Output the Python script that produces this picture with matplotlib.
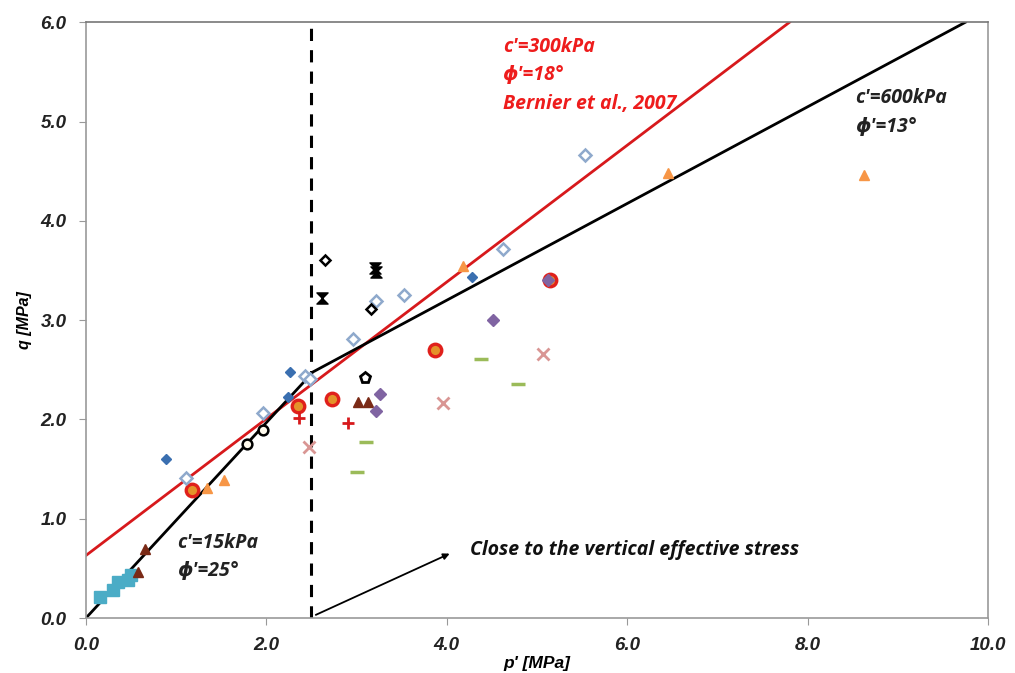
import matplotlib
matplotlib.use('Agg')
import matplotlib.pyplot as plt
from matplotlib.path import Path

# ---- data (p' [MPa], q [MPa]) ----
sq_p = [0.15, 0.30, 0.35, 0.47, 0.50]
sq_q = [0.21, 0.28, 0.36, 0.38, 0.43]

brown_tri_p = [0.58, 0.65, 3.02, 3.13]
brown_tri_q = [0.46, 0.69, 2.18, 2.18]

orange_tri_p = [1.34, 1.53, 4.18, 6.45, 8.63]
orange_tri_q = [1.31, 1.39, 3.54, 4.48, 4.46]

circ_p = [1.18, 2.35, 2.73, 3.87, 5.14]
circ_q = [1.29, 2.14, 2.21, 2.70, 3.40]

blue_dia_p = [0.89, 2.24, 2.26, 4.28]
blue_dia_q = [1.60, 2.23, 2.48, 3.43]

open_dia_p = [1.11, 1.96, 2.43, 2.48, 2.96, 3.22, 3.53, 4.62, 5.53]
open_dia_q = [1.41, 2.06, 2.44, 2.41, 2.81, 3.19, 3.25, 3.72, 4.66]

black_dia_p = [2.65, 3.16]
black_dia_q = [3.61, 3.11]

open_circ_p = [1.78, 1.96]
open_circ_q = [1.75, 1.89]

penta_p = [3.09]
penta_q = [2.42]

bowtie_p = [2.62, 3.20, 3.21]
bowtie_q = [3.22, 3.52, 3.48]

plus_p = [2.36, 2.90]
plus_q = [2.01, 1.96]

pink_x_p = [2.47, 3.96, 5.07]
pink_x_q = [1.72, 2.17, 2.66]

purple_p = [3.26, 3.21, 4.51, 5.12]
purple_q = [2.26, 2.08, 3.00, 3.40]

green_p = [3.10, 3.00, 4.38, 4.79]
green_q = [1.77, 1.47, 2.61, 2.36]

# failure envelopes
red_line_p = [0.0, 7.8]
red_line_q = [0.63, 6.0]
black_low_p = [0.0, 2.5]
black_low_q = [0.0, 2.46]
black_up_p = [2.5, 9.75]
black_up_q = [2.47, 6.0]

bowtie = Path([(-1, 1), (1, 1), (-1, -1), (1, -1), (-1, 1)],
              [Path.MOVETO, Path.LINETO, Path.LINETO, Path.LINETO, Path.CLOSEPOLY])

fig = plt.figure(figsize=(10.15, 6.73), dpi=100, facecolor='w')
ax = fig.add_axes([0.0847, 0.0817, 0.8887, 0.8853])

ax.plot(red_line_p, red_line_q, color='#d7191c', lw=2, zorder=2)
ax.plot(black_low_p, black_low_q, color='black', lw=2, zorder=2)
ax.plot(black_up_p, black_up_q, color='black', lw=2, zorder=2)
ax.axvline(2.5, color='black', lw=2.2, ls=(0, (4, 3)), zorder=2)

ax.plot(sq_p, sq_q, 's', color='#4bacc6', ms=9, zorder=3)
ax.plot(brown_tri_p, brown_tri_q, '^', color='#7a2a16', ms=7, zorder=3)
ax.plot(orange_tri_p, orange_tri_q, '^', color='#f79646', ms=7, zorder=3)
ax.plot(circ_p, circ_q, 'o', mfc='#e4922a', mec='#e0201b', mew=2.4, ms=9, zorder=3)
ax.plot(blue_dia_p, blue_dia_q, 'D', color='#3a6fb0', ms=5.5, zorder=3)
ax.plot(open_dia_p, open_dia_q, 'D', mfc='white', mec='#8fa9cc', mew=1.8, ms=6, zorder=3)
ax.plot(black_dia_p, black_dia_q, 'D', mfc='white', mec='black', mew=1.8, ms=5.5, zorder=3)
ax.plot(open_circ_p, open_circ_q, 'o', mfc='#fffbee', mec='black', mew=1.8, ms=7, zorder=3)
ax.plot(penta_p, penta_q, 'p', mfc='white', mec='black', mew=2, ms=8, zorder=3)
ax.plot(bowtie_p, bowtie_q, marker=bowtie, ls='none', color='black', ms=8, zorder=3)
ax.plot(plus_p, plus_q, '+', color='#d7191c', mew=2, ms=9, zorder=3)
ax.plot(pink_x_p, pink_x_q, 'x', color='#d99694', mew=2, ms=8, zorder=3)
ax.plot(purple_p, purple_q, 'D', color='#8064a2', ms=6, zorder=3)
ax.plot(green_p, green_q, '_', color='#9bbb59', mew=2.5, ms=10, zorder=3)

tfont = dict(family=['Open Sans', 'DejaVu Sans'], fontweight='bold', fontstyle='italic',
             fontsize=14, va='center')
ax.text(4.62, 5.75, "c'=300kPa", color='#ee1c1c', **tfont)
ax.text(4.62, 5.47, "ϕ'=18°", color='#ee1c1c', **tfont)
ax.text(4.62, 5.18, "Bernier et al., 2007", color='#ee1c1c', **tfont)
ax.text(8.53, 5.24, "c'=600kPa", color='#222222', **tfont)
ax.text(8.53, 4.95, "ϕ'=13°", color='#222222', **tfont)
ax.text(1.01, 0.755, "c'=15kPa", color='#222222', **tfont)
ax.text(1.01, 0.47, "ϕ'=25°", color='#222222', **tfont)
ax.text(4.26, 0.685, "Close to the vertical effective stress", color='#111111', **tfont)
ax.annotate('', xy=(4.06, 0.66), xytext=(2.52, 0.02),
            arrowprops=dict(arrowstyle='-|>', color='black', lw=1.3, mutation_scale=9))

ax.set_xlim(0, 10)
ax.set_ylim(0, 6)
ax.set_xticks([0, 2, 4, 6, 8, 10])
ax.set_yticks([0, 1, 2, 3, 4, 5, 6])
lfont = dict(family='Liberation Sans', fontweight='bold', fontstyle='italic', fontsize=13.5)
ax.set_xticklabels(['%.1f' % v for v in ax.get_xticks()], color='#222222', **lfont)
ax.set_yticklabels(['%.1f' % v for v in ax.get_yticks()], color='#222222', **lfont)
ax.tick_params(direction='out', length=5, color='#999999', pad=9)
for s in ax.spines.values():
    s.set_color('#999999')
    s.set_linewidth(1.2)
ax.spines['top'].set_color('#777777')
ax.set_xlabel("p' [MPa]", family='Liberation Sans', fontweight='bold', fontstyle='italic',
              fontsize=12.5, labelpad=1)
ax.set_ylabel("q [MPa]", family='Liberation Sans', fontweight='bold', fontstyle='italic',
              fontsize=11.5, labelpad=6)

fig.savefig('out.png', dpi=100)
plt.close()
